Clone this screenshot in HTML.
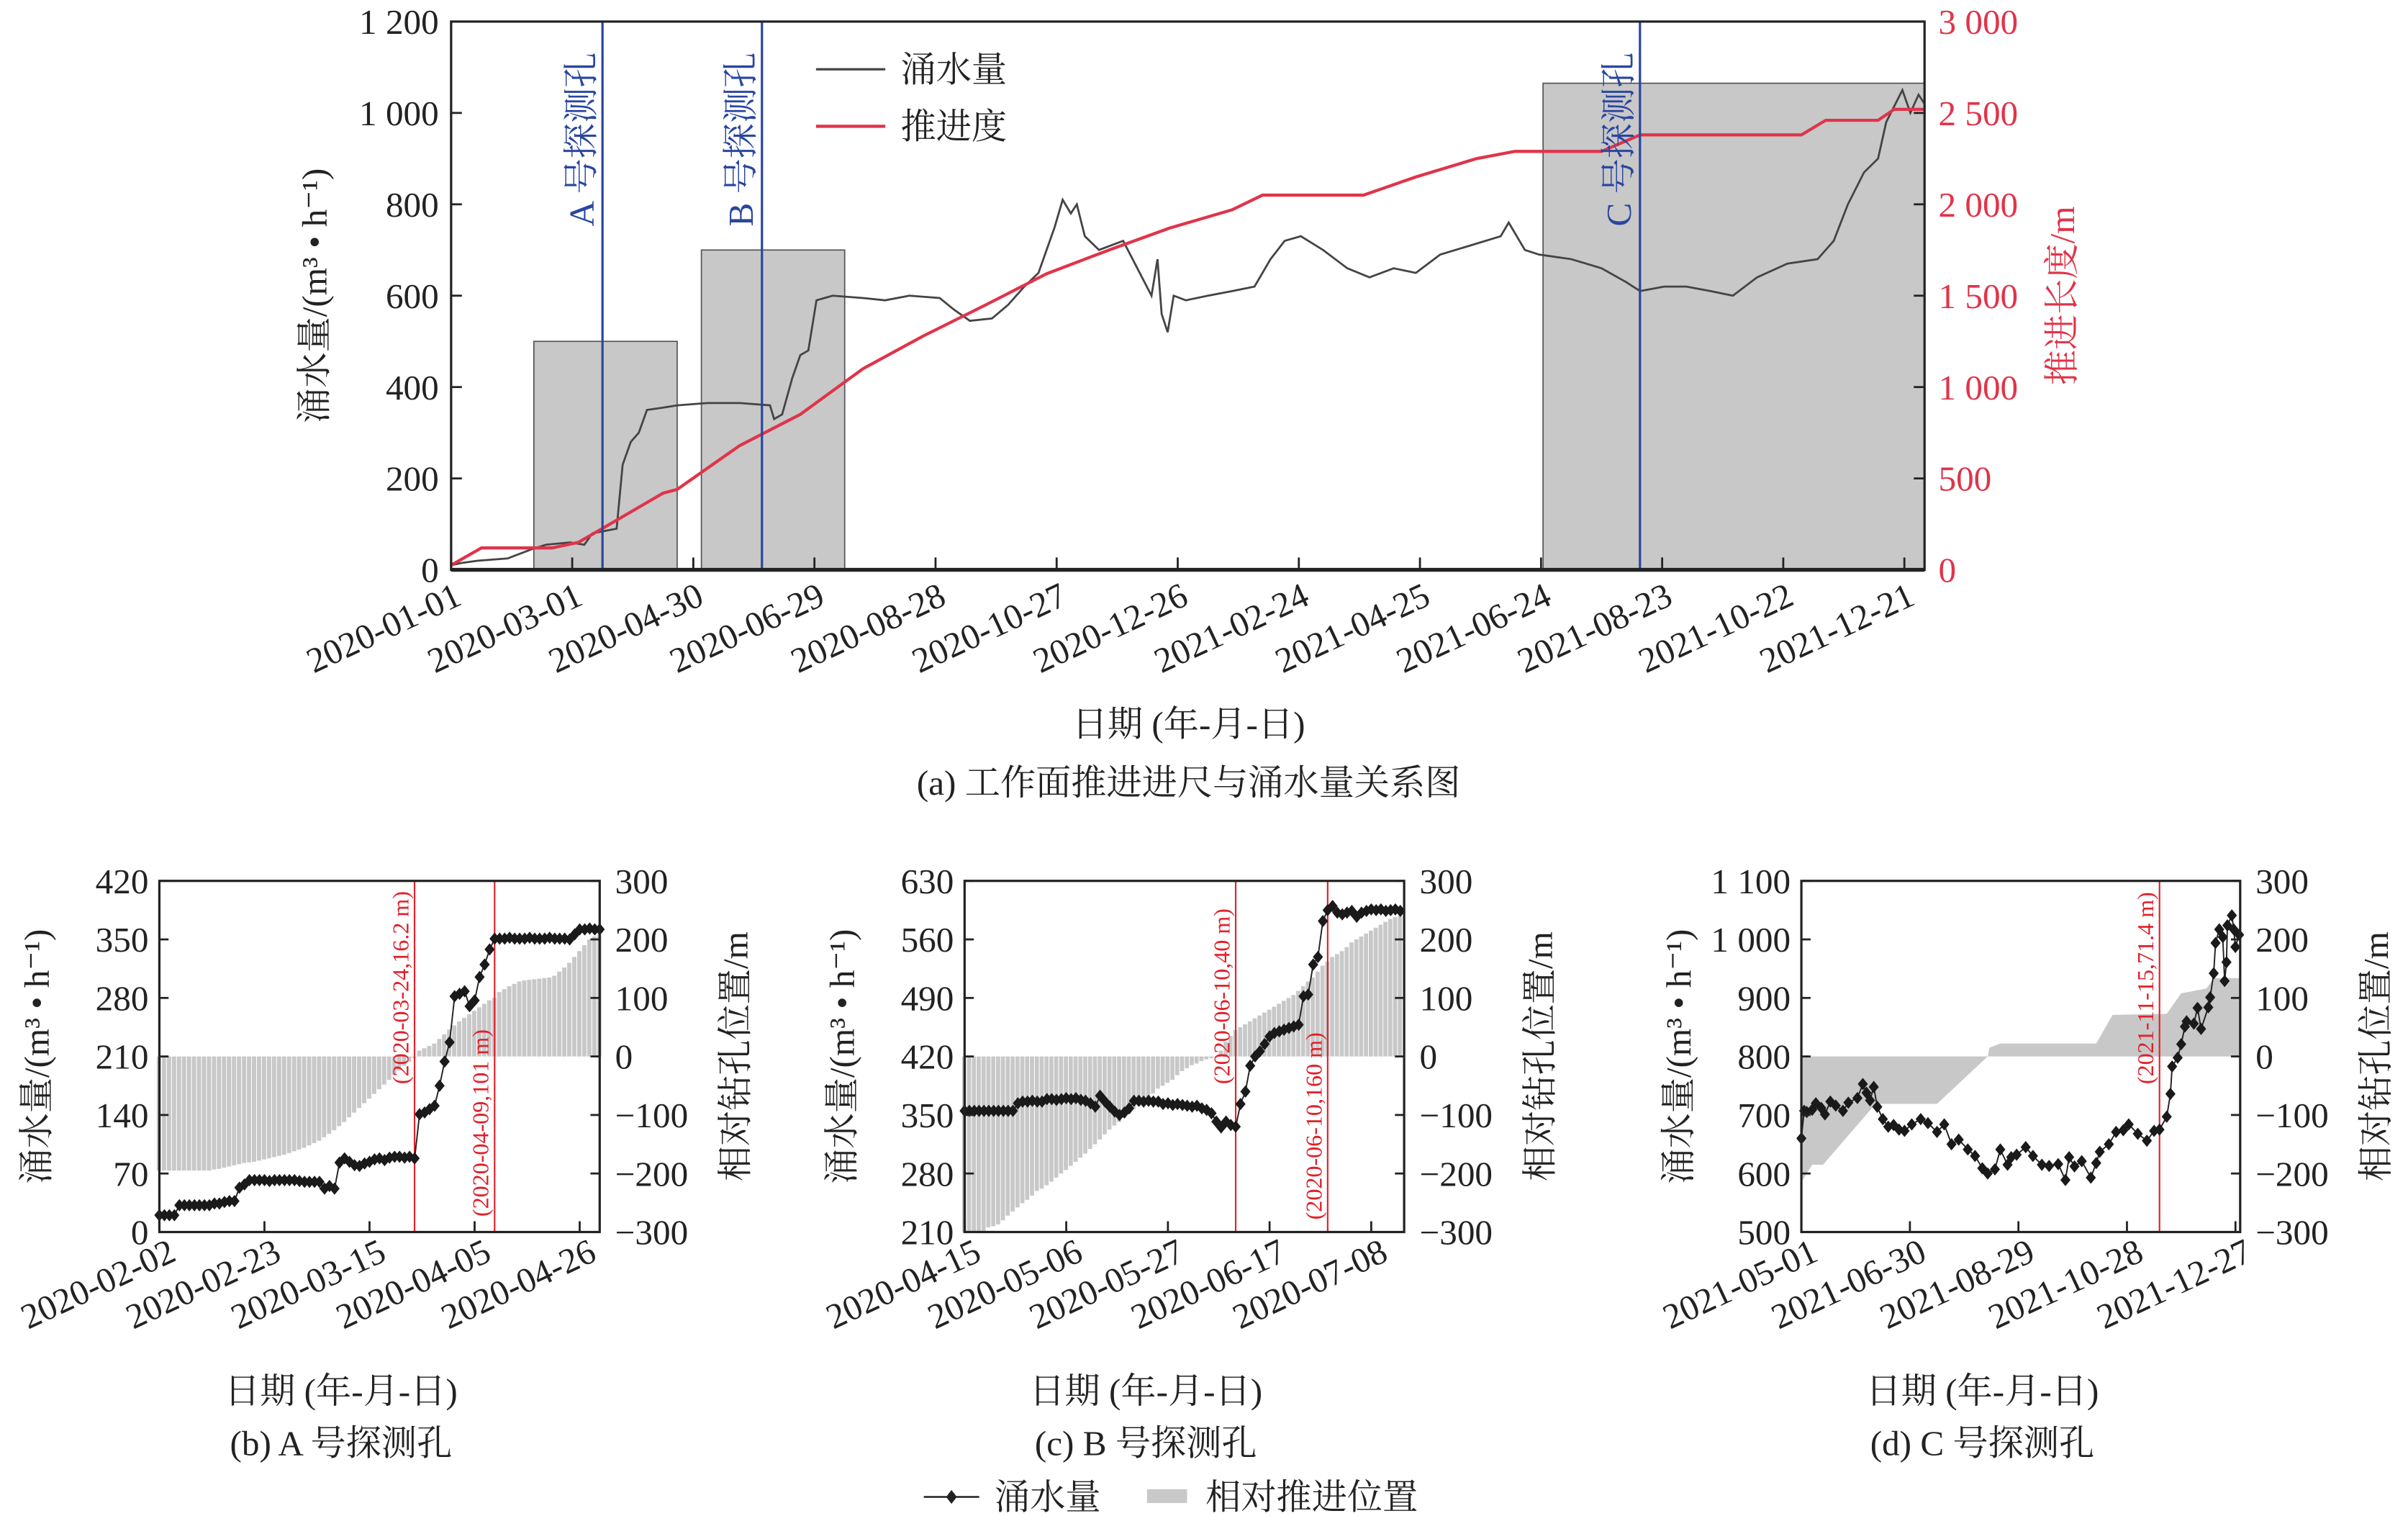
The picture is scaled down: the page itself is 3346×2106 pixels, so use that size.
<!DOCTYPE html>
<html><head><meta charset="utf-8"><style>
html,body{margin:0;padding:0;background:#fff}
svg{display:block}
text{font-family:"Liberation Serif","Noto Serif CJK SC","Noto Sans CJK SC",serif;fill:#222}
</style></head><body>
<svg id="fig" xmlns="http://www.w3.org/2000/svg" width="3346" height="2106" viewBox="0 0 1564 984.4" preserveAspectRatio="none">
<g id="chartA"></g>
<g id="chartB"></g>
<g id="chartC"></g>
<g id="chartD"></g>
<g id="legend">
  <line x1="600" y1="972" x2="636" y2="972" stroke="#222" stroke-width="1.2"/>
  <path d="M618 967.5 L621.5 972 L618 976.5 L614.5 972Z" fill="#222"/>
  <text x="646" y="980" font-size="23">涌水量</text>
  <rect x="745" y="967" width="26" height="9" fill="#c8c8c8"/>
  <text x="783" y="980" font-size="23">相对推进位置</text>
</g>
</svg>
<script>
// ===== Chart (a) data =====
const aWaterDays = [0,5,13,28,40,47,59,66,70,76,82,85,89,93,97,105,112,127,143,158,160,164,169,173,177,181,189,204,215,227,242,249,257,268,276,284,291,299,303,307,310,314,321,333,340,347,350,352,355,358,364,375,387,398,406,413,421,432,444,455,467,478,490,505,520,524,532,539,555,570,582,589,601,612,624,635,647,662,677,685,692,700,707,711,719,723,727,730];
const aWaterVals = [10,15,20,25,45,55,60,55,80,85,90,230,280,300,350,355,360,365,365,360,330,340,420,470,480,590,600,595,590,600,595,570,545,550,580,620,650,750,810,780,800,730,700,720,660,600,680,560,520,600,590,600,610,620,680,720,730,700,660,640,660,650,690,710,730,760,700,690,680,660,630,610,620,620,610,600,640,670,680,720,800,870,900,980,1050,1000,1040,1020];
const aAdvDays = [0,15,50,63,74,105,112,143,173,204,234,265,295,326,356,387,402,452,478,508,527,570,589,669,681,707,715,730];
const aAdvVals = [25,120,120,150,220,420,440,680,850,1100,1280,1450,1620,1750,1870,1970,2050,2050,2150,2250,2290,2290,2380,2380,2460,2460,2520,2520];
const aBoxStart = [41,124,541];
const aBoxEnd = [112,195,730];
const aBoxTop = [500,700,1065];
const aHoleDays = [75,154,589];
const aHoleLabels = ["A 号探测孔","B 号探测孔","C 号探测孔"];
const aLeftTicks = [0,200,400,600,800,1000,1200];
const aLeftTickLabels = ["0","200","400","600","800","1 000","1 200"];
const aRightTicks = [0,500,1000,1500,2000,2500,3000];
const aRightTickLabels = ["0","500","1 000","1 500","2 000","2 500","3 000"];
const aDateTicks = [0,60,120,180,240,300,360,420,480,540,600,660,720];
const aDateLabels = ["2020-01-01","2020-03-01","2020-04-30","2020-06-29","2020-08-28","2020-10-27","2020-12-26","2021-02-24","2021-04-25","2021-06-24","2021-08-23","2021-10-22","2021-12-21"];

// ===== Chart (b) data =====
const bWater = [20,20,20,20,32,32,32,32,32,32,32,34,34,36,37,37,53,57,62,62,62,62,61,62,62,62,62,62,61,60,60,60,60,52,55,52,83,88,84,80,79,82,84,87,88,86,89,90,90,89,90,88,141,143,147,151,175,204,227,282,285,288,270,277,305,320,338,351,351,351,352,351,351,351,352,351,351,351,352,351,351,351,350,356,362,362,363,362,362];
const bBars = [-195,-195,-195,-195,-195,-195,-195,-195,-195,-195,-195,-193,-192,-190,-188,-186,-184,-182,-181,-180,-178,-176,-174,-172,-170,-168,-165,-162,-159,-156,-152,-148,-144,-138,-132,-126,-119,-112,-104,-96,-88,-80,-72,-64,-56,-48,-40,-32,-24,-16,-9,-3,10,14,18,22,30,38,46,53,60,66,72,78,84,90,96,100,110,115,120,124,128,130,131,132,133,134,135,138,145,152,160,170,180,190,200,205,208];
const bDateTicks = [0,21,42,63,84];
const bDateLabels = ["2020-02-02","2020-02-23","2020-03-15","2020-04-05","2020-04-26"];
const bLeftTicks = [0,70,140,210,280,350,420];
const bLeftLabels = ["0","70","140","210","280","350","420"];
const bMarkDays = [51,67];
const bMarkLabels = ["(2020-03-24,16.2 m)","(2020-04-09,101 m)"];

// ===== Chart (c) data =====
const cWater = [355,355,355,355,355,355,355,355,355,355,355,364,366,366,367,366,366,369,369,368,369,370,369,370,368,367,364,360,373,366,360,354,350,353,358,367,367,366,367,366,366,363,364,362,363,362,361,360,361,358,356,352,342,335,342,338,336,363,378,409,420,426,435,444,448,450,452,454,456,458,492,494,530,539,582,595,600,592,590,592,594,587,592,594,596,595,596,594,595,596,594];
const cBars = [-300,-300,-300,-300,-300,-292,-290,-287,-280,-272,-265,-258,-251,-245,-238,-230,-226,-220,-214,-207,-200,-194,-187,-180,-173,-166,-158,-150,-142,-133,-125,-118,-112,-105,-97,-90,-84,-77,-70,-63,-55,-50,-45,-40,-32,-25,-20,-15,-12,-8,-5,-3,0,10,25,35,45,50,55,60,65,70,75,80,85,90,95,100,105,112,120,128,135,145,155,162,170,175,180,187,195,200,205,210,215,220,225,230,235,238,240];
const cDateTicks = [0,21,42,63,84];
const cDateLabels = ["2020-04-15","2020-05-06","2020-05-27","2020-06-17","2020-07-08"];
const cLeftTicks = [210,280,350,420,490,560,630];
const cLeftLabels = ["210","280","350","420","490","560","630"];
const cMarkDays = [56,75];
const cMarkLabels = ["(2020-06-10,40 m)","(2020-06-10,160 m)"];

// ===== Chart (d) data =====
const dWaterDays = [0,1.5,3,6,8,11,13,16,19,23,26,31,34,36,38,40,42,45,48,51,54,57,61,66,70,75,79,83,87,92,96,100,103,107,110,114,116,119,124,128,133,137,142,146,148,151,155,160,163,165,170,174,178,181,186,191,195,198,202,204,205,208,210,212,213,217,219,221,225,226,228,229,231,233,234,235,235.5,238,239,240,242];
const dWaterVals = [660,707,705,709,720,712,701,723,716,707,721,729,753,738,725,748,714,693,680,683,675,673,684,693,686,671,684,650,658,641,630,609,600,607,641,615,628,632,645,630,615,613,616,589,628,612,621,593,618,637,650,671,674,684,668,656,673,675,697,736,783,798,821,851,860,856,883,847,884,901,942,994,1017,1004,929,961,1024,1041,1017,987,1008];
const dBarDays = [0,6,12,41,75,103,104,110,163,172,202,210,224,228,243];
const dBarVals = [-215,-185,-185,-81,-81,0,15,22,22,71,73,108,116,134,134];
const dDateTicks = [0,60,120,180,240];
const dDateLabels = ["2021-05-01","2021-06-30","2021-08-29","2021-10-28","2021-12-27"];
const dLeftTicks = [500,600,700,800,900,1000,1100];
const dLeftLabels = ["500","600","700","800","900","1 000","1 100"];
const dMarkDays = [198];
const dMarkLabels = ["(2021-11-15,71.4 m)"];

const rightTicks = [-300,-200,-100,0,100,200,300];
const rightLabels = ["−300","−200","−100","0","100","200","300"];

const NS = "http://www.w3.org/2000/svg";
function mk(parent, tag, attrs, txt){
  const e = document.createElementNS(NS, tag);
  for (const k in attrs) e.setAttribute(k, attrs[k]);
  if (txt !== undefined) e.textContent = txt;
  parent.appendChild(e);
  return e;
}

// ===== Draw chart (a) =====
(function(){
  const g = document.getElementById('chartA');
  const L=293, R=1250, T=14, B=370;
  const xS = d => L + d*(R-L)/730;
  const yL = v => B - v*(B-T)/1200;
  const yR = v => B - v*(B-T)/3000;
  for (let i=0;i<aBoxStart.length;i++){
    const r = mk(g,'rect',{x:xS(aBoxStart[i]),y:yL(aBoxTop[i]),width:xS(aBoxEnd[i])-xS(aBoxStart[i]),height:B-yL(aBoxTop[i]),fill:'#c8c8c8',stroke:'#555','stroke-width':0.8});
    
    
  }
  let p = '';
  aWaterDays.forEach((d,i)=>{ p += (i?'L':'M')+xS(d).toFixed(1)+' '+yL(aWaterVals[i]).toFixed(1)+' '; });
  const wl = mk(g,'path',{d:p,fill:'none',stroke:'#444','stroke-width':1.3});
  
  
  p = '';
  aAdvDays.forEach((d,i)=>{ p += (i?'L':'M')+xS(d).toFixed(1)+' '+yR(aAdvVals[i]).toFixed(1)+' '; });
  const al = mk(g,'path',{d:p,fill:'none',stroke:'#e0344a','stroke-width':2});
  
  
  for (let i=0;i<aHoleDays.length;i++){
    const x = xS(aHoleDays[i]);
    const hl = mk(g,'line',{x1:x,y1:T,x2:x,y2:B,stroke:'#2a46a0','stroke-width':1.5});
    
    
    const t = mk(g,'text',{x:0,y:0,transform:`translate(${x-6},${147}) rotate(-90)`,'font-size':23,style:'fill:#2a46a0'},aHoleLabels[i]);
    
    
  }
  // frame
  mk(g,'rect',{x:L,y:T,width:R-L,height:B-T,fill:'none',stroke:'#222','stroke-width':1.5});
  mk(g,'line',{x1:L,y1:B,x2:R,y2:B,stroke:'#222','stroke-width':2.5});
  aLeftTicks.forEach((v,i)=>{
    mk(g,'line',{x1:L,y1:yL(v),x2:L+7,y2:yL(v),stroke:'#222','stroke-width':1.3});
    const t=mk(g,'text',{x:L-8,y:yL(v)+8,'text-anchor':'end','font-size':23},aLeftTickLabels[i]);
    
    
  });
  aRightTicks.forEach((v,i)=>{
    mk(g,'line',{x1:R,y1:yR(v),x2:R-7,y2:yR(v),stroke:'#222','stroke-width':1.3});
    const t=mk(g,'text',{x:R+9,y:yR(v)+8,'font-size':23,style:'fill:#e0344a'},aRightTickLabels[i]);
    
    
  });
  aDateTicks.forEach((d,i)=>{
    const x=xS(d);
    mk(g,'line',{x1:x,y1:B,x2:x,y2:B-8,stroke:'#222','stroke-width':1.3});
    const t=mk(g,'text',{x:0,y:0,transform:`translate(${x+8},${392}) rotate(-25)`,'text-anchor':'end','font-size':23},aDateLabels[i]);
    
    
  });
  // legend
  mk(g,'line',{x1:530,y1:45,x2:575,y2:45,stroke:'#444','stroke-width':1.5});
  let t=mk(g,'text',{x:585,y:53,'font-size':23},'涌水量');
  
  
  mk(g,'line',{x1:530,y1:82,x2:575,y2:82,stroke:'#e0344a','stroke-width':2});
  t=mk(g,'text',{x:585,y:90,'font-size':23},'推进度');
  
  
  t=mk(g,'text',{x:0,y:0,transform:'translate(212,192) rotate(-90)','text-anchor':'middle','font-size':23},'涌水量/(m³ • h⁻¹)');
  
  
  t=mk(g,'text',{x:0,y:0,transform:'translate(1347,192) rotate(-90)','text-anchor':'middle','font-size':23,style:'fill:#e0344a'},'推进长度/m');
  
  
  t=mk(g,'text',{x:772,y:478,'text-anchor':'middle','font-size':23},'日期 (年-月-日)');
  
  
  t=mk(g,'text',{x:772,y:516,'text-anchor':'middle','font-size':23},'(a) 工作面推进进尺与涌水量关系图');
  
  
})();

// ===== Sub charts =====
function sub(id, L, R, xMax, lMin, lMax, leftTicks, leftLabels, dateTicks, dateLabels, barsFn, waterDays, waterVals, markDays, markLabels, caption){
  const g = document.getElementById(id);
  const T=572, B=800;
  const xS = d => L + d*(R-L)/xMax;
  const yL = v => B - (v-lMin)*(B-T)/(lMax-lMin);
  const yR = v => B - (v+300)*(B-T)/600;
  barsFn(g, xS, yR);
  for (let i=0;i<markDays.length;i++){
    const x=xS(markDays[i]);
    const ml=mk(g,'line',{x1:x,y1:T,x2:x,y2:B,stroke:'#e0202a','stroke-width':1});
    
    
    const t=mk(g,'text',{x:0,y:0,transform:`translate(${x-4},${i===0?704:(id==='chartB'?790:792)}) rotate(-90)`,'font-size':15,style:'fill:#e0202a'},markLabels[i]);
    
    
  }
  let p='';
  waterDays.forEach((d,i)=>{ p += (i?'L':'M')+xS(d).toFixed(1)+' '+yL(waterVals[i]).toFixed(1)+' '; });
  const wl=mk(g,'path',{d:p,fill:'none',stroke:'#222','stroke-width':0.9});
  
  
  waterDays.forEach((d,i)=>{
    const x=xS(d), y=yL(waterVals[i]);
    const m=mk(g,'path',{d:`M${x.toFixed(1)} ${(y-4).toFixed(1)}L${(x+3.3).toFixed(1)} ${y.toFixed(1)}L${x.toFixed(1)} ${(y+4).toFixed(1)}L${(x-3.3).toFixed(1)} ${y.toFixed(1)}Z`,fill:'#1a1a1a'});
    
    
  });
  mk(g,'rect',{x:L,y:T,width:R-L,height:B-T,fill:'none',stroke:'#222','stroke-width':1.5});
  leftTicks.forEach((v,i)=>{
    mk(g,'line',{x1:L,y1:yL(v),x2:L+6,y2:yL(v),stroke:'#222','stroke-width':1.3});
    const t=mk(g,'text',{x:L-7,y:yL(v)+8,'text-anchor':'end','font-size':23},leftLabels[i]);
    
    
  });
  rightTicks.forEach((v,i)=>{
    mk(g,'line',{x1:R,y1:yR(v),x2:R-6,y2:yR(v),stroke:'#222','stroke-width':1.3});
    const t=mk(g,'text',{x:R+10,y:yR(v)+8,'font-size':23},rightLabels[i]);
    
    
  });
  dateTicks.forEach((d,i)=>{
    const x=xS(d);
    mk(g,'line',{x1:x,y1:B,x2:x,y2:B-7,stroke:'#222','stroke-width':1.3});
    const t=mk(g,'text',{x:0,y:0,transform:`translate(${x+12},${818}) rotate(-25)`,'text-anchor':'end','font-size':23},dateLabels[i]);
    
    
  });
  const c=(L+R)/2-25;
  let t=mk(g,'text',{x:0,y:0,transform:`translate(${L-72},${686}) rotate(-90)`,'text-anchor':'middle','font-size':23},'涌水量/(m³ • h⁻¹)');
  
  
  t=mk(g,'text',{x:0,y:0,transform:`translate(${R+96},${686}) rotate(-90)`,'text-anchor':'middle','font-size':23},'相对钻孔位置/m');
  
  
  t=mk(g,'text',{x:c,y:911,'text-anchor':'middle','font-size':23},'日期 (年-月-日)');
  
  
  t=mk(g,'text',{x:c,y:945,'text-anchor':'middle','font-size':23},caption);
  
  
}
function dailyBars(arr){
  return function(g,xS,yR){
    arr.forEach((v,i)=>{
      const x0=xS(i-0.5), x1=xS(i+0.5);
      const y0=yR(0), y1=yR(v);
      const b=mk(g,'rect',{x:x0,y:Math.min(y0,y1),width:Math.max(0.5,(x1-x0)*0.85),height:Math.abs(y1-y0),fill:'#c8c8c8'});
      
      
    });
  };
}
const idx = n => Array.from({length:n},(_,i)=>i);
sub('chartB',103.5,389.5,88,0,420,bLeftTicks,bLeftLabels,bDateTicks,bDateLabels,dailyBars(bBars),idx(bWater.length),bWater,bMarkDays,bMarkLabels,'(b) A 号探测孔');
sub('chartC',626.5,912,90.8,210,630,cLeftTicks,cLeftLabels,cDateTicks,cDateLabels,dailyBars(cBars),idx(cWater.length),cWater,cMarkDays,cMarkLabels,'(c) B 号探测孔');
sub('chartD',1170,1455,242.6,500,1100,dLeftTicks,dLeftLabels,dDateTicks,dDateLabels,function(g,xS,yR){
  let p='M'+xS(dBarDays[0])+' '+yR(0)+' ';
  dBarDays.forEach((d,i)=>{ p+='L'+xS(Math.min(d,242.6)).toFixed(1)+' '+yR(dBarVals[i]).toFixed(1)+' '; });
  p+='L'+xS(242.6)+' '+yR(0)+'Z';
  const a=mk(g,'path',{d:p,fill:'#c8c8c8'});
  
  
},dWaterDays,dWaterVals,dMarkDays,dMarkLabels,'(d) C 号探测孔');
</script>
</body></html>
